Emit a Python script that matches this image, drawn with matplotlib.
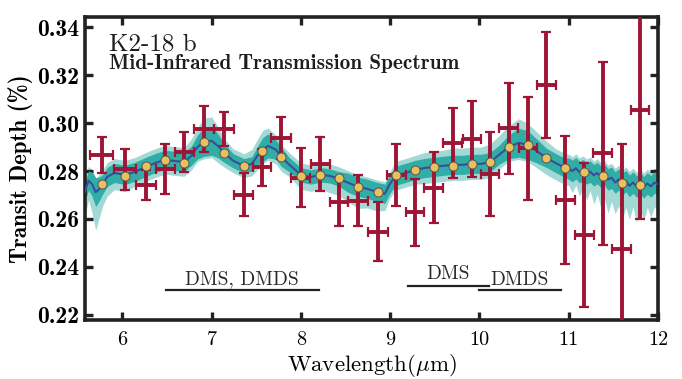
import numpy as np
import matplotlib
matplotlib.use("Agg")
import matplotlib.pyplot as plt

# observed binned spectrum (wavelength in um, depth in %)
obs_wl = [5.767, 6.028, 6.263, 6.480, 6.693, 6.913, 7.137, 7.357, 7.562, 7.780,
          7.996, 8.216, 8.424, 8.637, 8.861, 9.067, 9.280, 9.488, 9.701, 9.918,
          10.12, 10.328, 10.541, 10.747, 10.960, 11.176, 11.381, 11.593, 11.799]
obs_depth = [0.2867, 0.2808, 0.2741, 0.2808, 0.2881, 0.2976, 0.2976, 0.2701, 0.2815, 0.2937,
             0.2773, 0.2829, 0.2669, 0.2676, 0.2546, 0.2784, 0.2627, 0.2731, 0.2916, 0.2933,
             0.2788, 0.2979, 0.2895, 0.3159, 0.2680, 0.2534, 0.2875, 0.2474, 0.3055]
obs_yerr = [0.0076, 0.0086, 0.0063, 0.0104, 0.0083, 0.0097, 0.0071, 0.0089, 0.0078, 0.0088,
            0.0122, 0.0114, 0.0100, 0.0107, 0.0123, 0.0128, 0.0140, 0.0147, 0.0147, 0.0158,
            0.0176, 0.0190, 0.0214, 0.0222, 0.0267, 0.0300, 0.0382, 0.0439, 0.0456]
obs_xerr = [0.13, 0.125, 0.11, 0.105, 0.108, 0.112, 0.112, 0.108, 0.103, 0.112,
            0.108, 0.106, 0.103, 0.112, 0.112, 0.108, 0.103, 0.106, 0.108, 0.103,
            0.103, 0.106, 0.10, 0.105, 0.106, 0.106, 0.105, 0.106, 0.103]

# binned model points
bin_depth = [0.2745, 0.2781, 0.2819, 0.2844, 0.2835, 0.2920, 0.2875, 0.2819, 0.2884, 0.2858,
             0.2780, 0.2783, 0.2770, 0.2735, 0.2714, 0.2784, 0.2805, 0.2815, 0.2823, 0.2829,
             0.2837, 0.2900, 0.2909, 0.2854, 0.2812, 0.2798, 0.2781, 0.2749, 0.2742]

# model spectrum with 1 and 2 sigma envelopes
model_wl = [5.58, 5.62, 5.66, 5.70, 5.74, 5.78, 5.83, 5.91, 6.03, 6.14,
            6.26, 6.37, 6.48, 6.58, 6.69, 6.77, 6.84, 6.91, 7.00, 7.07,
            7.14, 7.24, 7.36, 7.45, 7.52, 7.57, 7.63, 7.72, 7.78, 7.87,
            8.00, 8.11, 8.22, 8.32, 8.42, 8.53, 8.64, 8.74, 8.85, 8.94,
            8.99, 9.06, 9.17, 9.28, 9.39, 9.49, 9.60, 9.71, 9.81, 9.92,
            10.02, 10.12, 10.22, 10.33, 10.44, 10.54, 10.64, 10.75, 10.85, 10.96,
            11.00, 11.04, 11.08, 11.12, 11.16, 11.20, 11.24, 11.28, 11.32, 11.36,
            11.40, 11.44, 11.48, 11.52, 11.56, 11.60, 11.64, 11.68, 11.72, 11.76,
            11.80, 11.84, 11.88, 11.92, 11.96, 12.00]
model_depth = [0.2715, 0.2760, 0.2745, 0.2712, 0.2725, 0.2745, 0.2776, 0.2792, 0.2784, 0.2797,
               0.2817, 0.2834, 0.2847, 0.2842, 0.2838, 0.2863, 0.2900, 0.2921, 0.2926, 0.2905,
               0.2876, 0.2843, 0.2822, 0.2830, 0.2868, 0.2889, 0.2905, 0.2889, 0.2859, 0.2826,
               0.2784, 0.2775, 0.2784, 0.2780, 0.2768, 0.2751, 0.2734, 0.2726, 0.2713, 0.2705,
               0.2743, 0.2780, 0.2792, 0.2805, 0.2813, 0.2817, 0.2822, 0.2826, 0.2826, 0.2830,
               0.2830, 0.2838, 0.2868, 0.2901, 0.2918, 0.2909, 0.2884, 0.2855, 0.2834, 0.2813,
               0.2810, 0.2800, 0.2812, 0.2795, 0.2803, 0.2790, 0.2798, 0.2782, 0.2792, 0.2775,
               0.2785, 0.2765, 0.2772, 0.2752, 0.2765, 0.2745, 0.2758, 0.2738, 0.2752, 0.2735,
               0.2750, 0.2732, 0.2748, 0.2736, 0.2752, 0.2745]
sig1 = [0.004, 0.004, 0.005, 0.006, 0.005, 0.004, 0.004, 0.004, 0.004, 0.004,
        0.004, 0.004, 0.004, 0.004, 0.004, 0.004, 0.005, 0.006, 0.006, 0.005,
        0.004, 0.003, 0.003, 0.003, 0.004, 0.005, 0.005, 0.004, 0.004, 0.003,
        0.003, 0.003, 0.003, 0.003, 0.003, 0.004, 0.004, 0.004, 0.004, 0.004,
        0.004, 0.004, 0.004, 0.004, 0.004, 0.004, 0.004, 0.004, 0.004, 0.004,
        0.004, 0.004, 0.004, 0.005, 0.006, 0.006, 0.005, 0.004, 0.004, 0.004,
        0.0045, 0.0045, 0.0045, 0.0045, 0.0045, 0.0045, 0.0045, 0.0045, 0.0045, 0.0045,
        0.0045, 0.0045, 0.0045, 0.0045, 0.0045, 0.0045, 0.0045, 0.0045, 0.0045, 0.0045,
        0.0045, 0.0045, 0.0045, 0.0045, 0.0045, 0.0045]
sig2_up = [0.006, 0.006, 0.006, 0.006, 0.006, 0.006, 0.006, 0.006, 0.006, 0.006,
           0.006, 0.006, 0.006, 0.006, 0.006, 0.007, 0.008, 0.010, 0.010, 0.008,
           0.006, 0.005, 0.005, 0.006, 0.007, 0.008, 0.0075, 0.006, 0.005, 0.005,
           0.005, 0.005, 0.005, 0.005, 0.005, 0.005, 0.005, 0.005, 0.005, 0.005,
           0.005, 0.006, 0.006, 0.006, 0.0065, 0.0065, 0.0065, 0.007, 0.007, 0.007,
           0.007, 0.0075, 0.008, 0.009, 0.010, 0.009, 0.008, 0.007, 0.006, 0.006,
           0.006, 0.006, 0.006, 0.006, 0.006, 0.006, 0.006, 0.006, 0.006, 0.006,
           0.006, 0.006, 0.006, 0.006, 0.006, 0.006, 0.006, 0.006, 0.006, 0.006,
           0.006, 0.006, 0.006, 0.006, 0.006, 0.006]
sig2_dn = [0.010, 0.008, 0.012, 0.016, 0.012, 0.009, 0.008, 0.007, 0.007, 0.006,
           0.006, 0.006, 0.006, 0.006, 0.006, 0.006, 0.006, 0.007, 0.007, 0.007,
           0.006, 0.005, 0.005, 0.005, 0.006, 0.006, 0.006, 0.006, 0.006, 0.005,
           0.006, 0.006, 0.006, 0.007, 0.007, 0.008, 0.009, 0.008, 0.008, 0.007,
           0.006, 0.006, 0.006, 0.006, 0.0065, 0.0065, 0.0065, 0.0065, 0.0065, 0.0065,
           0.0065, 0.0065, 0.006, 0.006, 0.007, 0.007, 0.007, 0.007, 0.007, 0.007,
           0.007, 0.009, 0.007, 0.010, 0.008, 0.011, 0.008, 0.012, 0.009, 0.013,
           0.010, 0.014, 0.010, 0.013, 0.011, 0.015, 0.011, 0.014, 0.010, 0.015,
           0.011, 0.014, 0.010, 0.013, 0.010, 0.012]

x_ticks = [6, 7, 8, 9, 10, 11, 12]
y_ticks = [0.22, 0.24, 0.26, 0.28, 0.30, 0.32, 0.34]

plt.rcParams['font.family'] = 'cmr10'
plt.rcParams['mathtext.fontset'] = 'cm'
plt.rcParams['axes.unicode_minus'] = False

fig = plt.figure(figsize=(6.82, 3.79), dpi=100)
ax = fig.add_axes([0.1246, 0.1557, 0.8402, 0.7993])

mw = np.array(model_wl)
md = np.array(model_depth)
s1 = np.array(sig1)
ax.fill_between(mw, md - np.array(sig2_dn), md + np.array(sig2_up), color='#a3d9d5', lw=0, zorder=1)
ax.fill_between(mw, md - s1, md + s1, color='#30ada5', lw=0, zorder=2)
ax.plot(mw, md, color='#3a4c9f', lw=1.5, zorder=3)

ax.errorbar(obs_wl, obs_depth, yerr=obs_yerr, xerr=obs_xerr, fmt='none',
            ecolor='#9e1535', elinewidth=2.8, capsize=3.5, capthick=1.6, zorder=4)
ax.plot(obs_wl, bin_depth, 'o', ms=6.5, mfc='#e9c05c', mec='#555555', mew=0.7, zorder=5)

# molecule markers
ax.plot([6.484, 8.197], [0.2302, 0.2302], color='#222222', lw=1.6)
ax.text(7.34, 0.2348, 'DMS, DMDS', ha='center', va='center', fontsize=14, color='#2a2a2a')
ax.plot([9.197, 10.104], [0.2321, 0.2321], color='#222222', lw=1.6)
ax.text(9.65, 0.2368, 'DMS', ha='center', va='center', fontsize=14, color='#2a2a2a')
ax.plot([9.992, 10.915], [0.2302, 0.2302], color='#222222', lw=1.6)
ax.text(10.45, 0.2346, 'DMDS', ha='center', va='center', fontsize=14, color='#2a2a2a')

ax.text(0.042, 0.91, 'K2-18 b', transform=ax.transAxes, fontsize=18, color='#1e1e1e',
        ha='left', va='center')
ax.text(0.042, 0.847, 'Mid-Infrared Transmission Spectrum', transform=ax.transAxes,
        fontsize=15.3, family='cmb10', color='#1e1e1e', ha='left', va='center')

ax.set_xlim(5.58, 12.0)
ax.set_ylim(0.2178, 0.3443)
ax.set_xticks(x_ticks)
ax.set_xticklabels([str(t) for t in x_ticks], fontsize=14.5)
ax.set_yticks(y_ticks)
ax.set_yticklabels(['%.2f' % t for t in y_ticks], fontsize=17, family='cmb10')
ax.tick_params(direction='in', length=6, width=2.4, top=True, right=True, color='#222222')
ax.tick_params(axis='x', pad=8)
ax.tick_params(axis='y', pad=4)
for sp in ax.spines.values():
    sp.set_linewidth(2.6)
    sp.set_color('#222222')

ax.set_xlabel(r'Wavelength($\mu$m)', fontsize=16.5)
ax.xaxis.set_label_coords(0.5, -0.107)
ax.set_ylabel('Transit Depth (%)', fontsize=16.5, family='cmb10', labelpad=3)

fig.savefig('out.png', dpi=100)
